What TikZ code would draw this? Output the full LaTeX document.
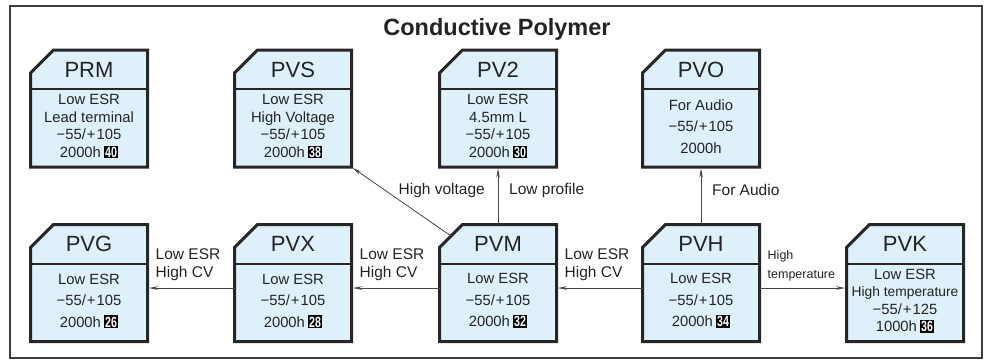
\documentclass[tikz,border=0pt]{standalone}
\usepackage{fontspec}
\setmainfont{Liberation Sans}
\usepackage{xcolor}
\usepackage{graphicx}
\usepackage{tikz}
\usetikzlibrary{positioning}
\usetikzlibrary{arrows.meta}
\definecolor{boxblue}{RGB}{222,240,250}
\definecolor{framegray}{RGB}{60,60,60}
\definecolor{arrgray}{RGB}{70,70,70}
\definecolor{inkgray}{RGB}{35,35,35}
\newcommand{\pno}[1]{\hspace{3pt}{\setlength{\fboxsep}{1.2pt}\colorbox{black}{\scalebox{0.72}[1]{\textcolor{white}{\bfseries #1}}}}}
\newcommand{\chamfbox}[1]{%
    \filldraw[boxline] ([yshift=-23pt]#1.north west) -- ([xshift=23pt]#1.north west)
        -- (#1.north east) -- (#1.south east) -- (#1.south west) -- cycle;
    \draw[divline] ([yshift=-39pt]#1.north west) -- ([yshift=-39pt]#1.north east);
}
\tikzset{
    sbox/.style = {rectangle, minimum width=117pt, minimum height=117pt, inner sep=0pt, outer sep=0pt},
    boxline/.style = {line width=3pt, draw=black!85, fill=boxblue, line join=miter},
    divline/.style = {line width=2pt, draw=black!85},
    stitle/.style = {align=center, inner sep=0pt, font=\fontsize{22}{26}\selectfont},
    sbody/.style = {align=center, inner sep=0pt, font=\fontsize{14.8}{17.4}\selectfont},
    sbodyw/.style = {align=center, inner sep=0pt, font=\fontsize{14.8}{21.5}\selectfont},
    lbl/.style = {align=left, inner sep=1pt, font=\fontsize{15.5}{18}\selectfont},
    lbls/.style = {align=left, inner sep=1pt, font=\fontsize{12.5}{19}\selectfont},
    arr/.style = {draw=arrgray, line width=0.8pt, -{Stealth[length=9pt,width=3.6pt]}, shorten >=1.5pt},
}

\begin{document}
\begin{tikzpicture}[
	x=1pt, y=-1pt,
	text=inkgray
]
\useasboundingbox (0,0) rectangle (986,360);
\draw[framegray, line width=1.8pt] (10,6) rectangle (982,358);
\node[font=\fontsize{23.5}{28}\selectfont\bfseries] at (497,29) (title) {Conductive Polymer};

% upper row
\node[sbox] at (89,108.5) (prm) {};
\chamfbox{prm}
\node[stitle] at ([yshift=-19.5pt]prm.north) (prmt) {PRM};
\node[sbody] at ([yshift=-18pt]prm.center) (prmb) {Low ESR\\Lead terminal\\−55/\kern1pt+\kern1pt105\\2000h\pno{40}};

\node[sbox] at (293,108.5) (pvs) {};
\chamfbox{pvs}
\node[stitle] at ([yshift=-19.5pt]pvs.north) (pvst) {PVS};
\node[sbody] at ([yshift=-18pt]pvs.center) (pvsb) {Low ESR\\High Voltage\\−55/\kern1pt+\kern1pt105\\2000h\pno{38}};

\node[sbox] at (498,108.5) (pv2) {};
\chamfbox{pv2}
\node[stitle] at ([yshift=-19.5pt]pv2.north) (pv2t) {PV2};
\node[sbody] at ([yshift=-18pt]pv2.center) (pv2b) {Low ESR\\4.5mm L\\−55/\kern1pt+\kern1pt105\\2000h\pno{30}};

\node[sbox] at (701,108.5) (pvo) {};
\chamfbox{pvo}
\node[stitle] at ([yshift=-19.5pt]pvo.north) (pvot) {PVO};
\node[sbodyw] at ([yshift=-18pt]pvo.center) (pvob) {For Audio\\−55/\kern1pt+\kern1pt105\\2000h};

% lower row
\node[sbox] at (89,283) (pvg) {};
\chamfbox{pvg}
\node[stitle] at ([yshift=-19.5pt]pvg.north) (pvgt) {PVG};
\node[sbodyw] at ([yshift=-18pt]pvg.center) (pvgb) {Low ESR\\−55/\kern1pt+\kern1pt105\\2000h\pno{26}};

\node[sbox] at (293,283) (pvx) {};
\chamfbox{pvx}
\node[stitle] at ([yshift=-19.5pt]pvx.north) (pvxt) {PVX};
\node[sbodyw] at ([yshift=-18pt]pvx.center) (pvxb) {Low ESR\\−55/\kern1pt+\kern1pt105\\2000h\pno{28}};

\node[sbox] at (498,283) (pvm) {};
\chamfbox{pvm}
\node[stitle] at ([yshift=-19.5pt]pvm.north) (pvmt) {PVM};
\node[sbodyw] at ([yshift=-18pt]pvm.center) (pvmb) {Low ESR\\−55/\kern1pt+\kern1pt105\\2000h\pno{32}};

\node[sbox] at (701,283) (pvh) {};
\chamfbox{pvh}
\node[stitle] at ([yshift=-19.5pt]pvh.north) (pvht) {PVH};
\node[sbodyw] at ([yshift=-18pt]pvh.center) (pvhb) {Low ESR\\−55/\kern1pt+\kern1pt105\\2000h\pno{34}};

\node[sbox] at (905,283) (pvk) {};
\chamfbox{pvk}
\node[stitle] at ([yshift=-19.5pt]pvk.north) (pvkt) {PVK};
\node[sbody] at ([yshift=-18pt]pvk.center) (pvkb) {Low ESR\\{\fontsize{13.8}{17.4}\selectfont High temperature}\\−55/\kern1pt+\kern1pt125\\1000h\pno{36}};

% arrows
\coordinate (pvmc) at ([xshift=11.5pt,yshift=-11.5pt]pvm.north west);
\draw[arr] ([yshift=-5pt]pvx.west) -- ([yshift=-5pt]pvg.east);
\draw[arr] ([yshift=-5pt]pvm.west) -- ([yshift=-5pt]pvx.east);
\draw[arr] ([yshift=-5pt]pvh.west) -- ([yshift=-5pt]pvm.east);
\draw[arr] ([yshift=-5pt]pvh.east) -- ([yshift=-5pt]pvk.west);
\draw[arr] (pvm.north) -- (pv2.south);
\draw[arr] (pvh.north) -- (pvo.south);
\draw[arr] (pvmc) -- (pvs.south east);

% labels
\node[lbl, anchor=west] at ([xshift=7pt,yshift=18pt]pvg.east) (lgx) {Low ESR\\High CV};
\node[lbl, anchor=west] at ([xshift=7pt,yshift=18pt]pvx.east) (lxm) {Low ESR\\High CV};
\node[lbl, anchor=west] at ([xshift=7pt,yshift=18pt]pvm.east) (lmh) {Low ESR\\High CV};
\node[lbls, anchor=west] at ([xshift=7pt,yshift=17.5pt]pvh.east) (lhk) {High\\temperature};
\node[lbl, anchor=east] at ([xshift=-12pt,yshift=34.5pt]pvm.north) (lvs) {High voltage};
\node[lbl, anchor=west] at ([xshift=10pt,yshift=34.5pt]pvm.north) (lv2) {Low profile};
\node[lbl, anchor=west] at ([xshift=10pt,yshift=35pt]pvh.north) (lvo) {For Audio};

\end{tikzpicture}
\end{document}
